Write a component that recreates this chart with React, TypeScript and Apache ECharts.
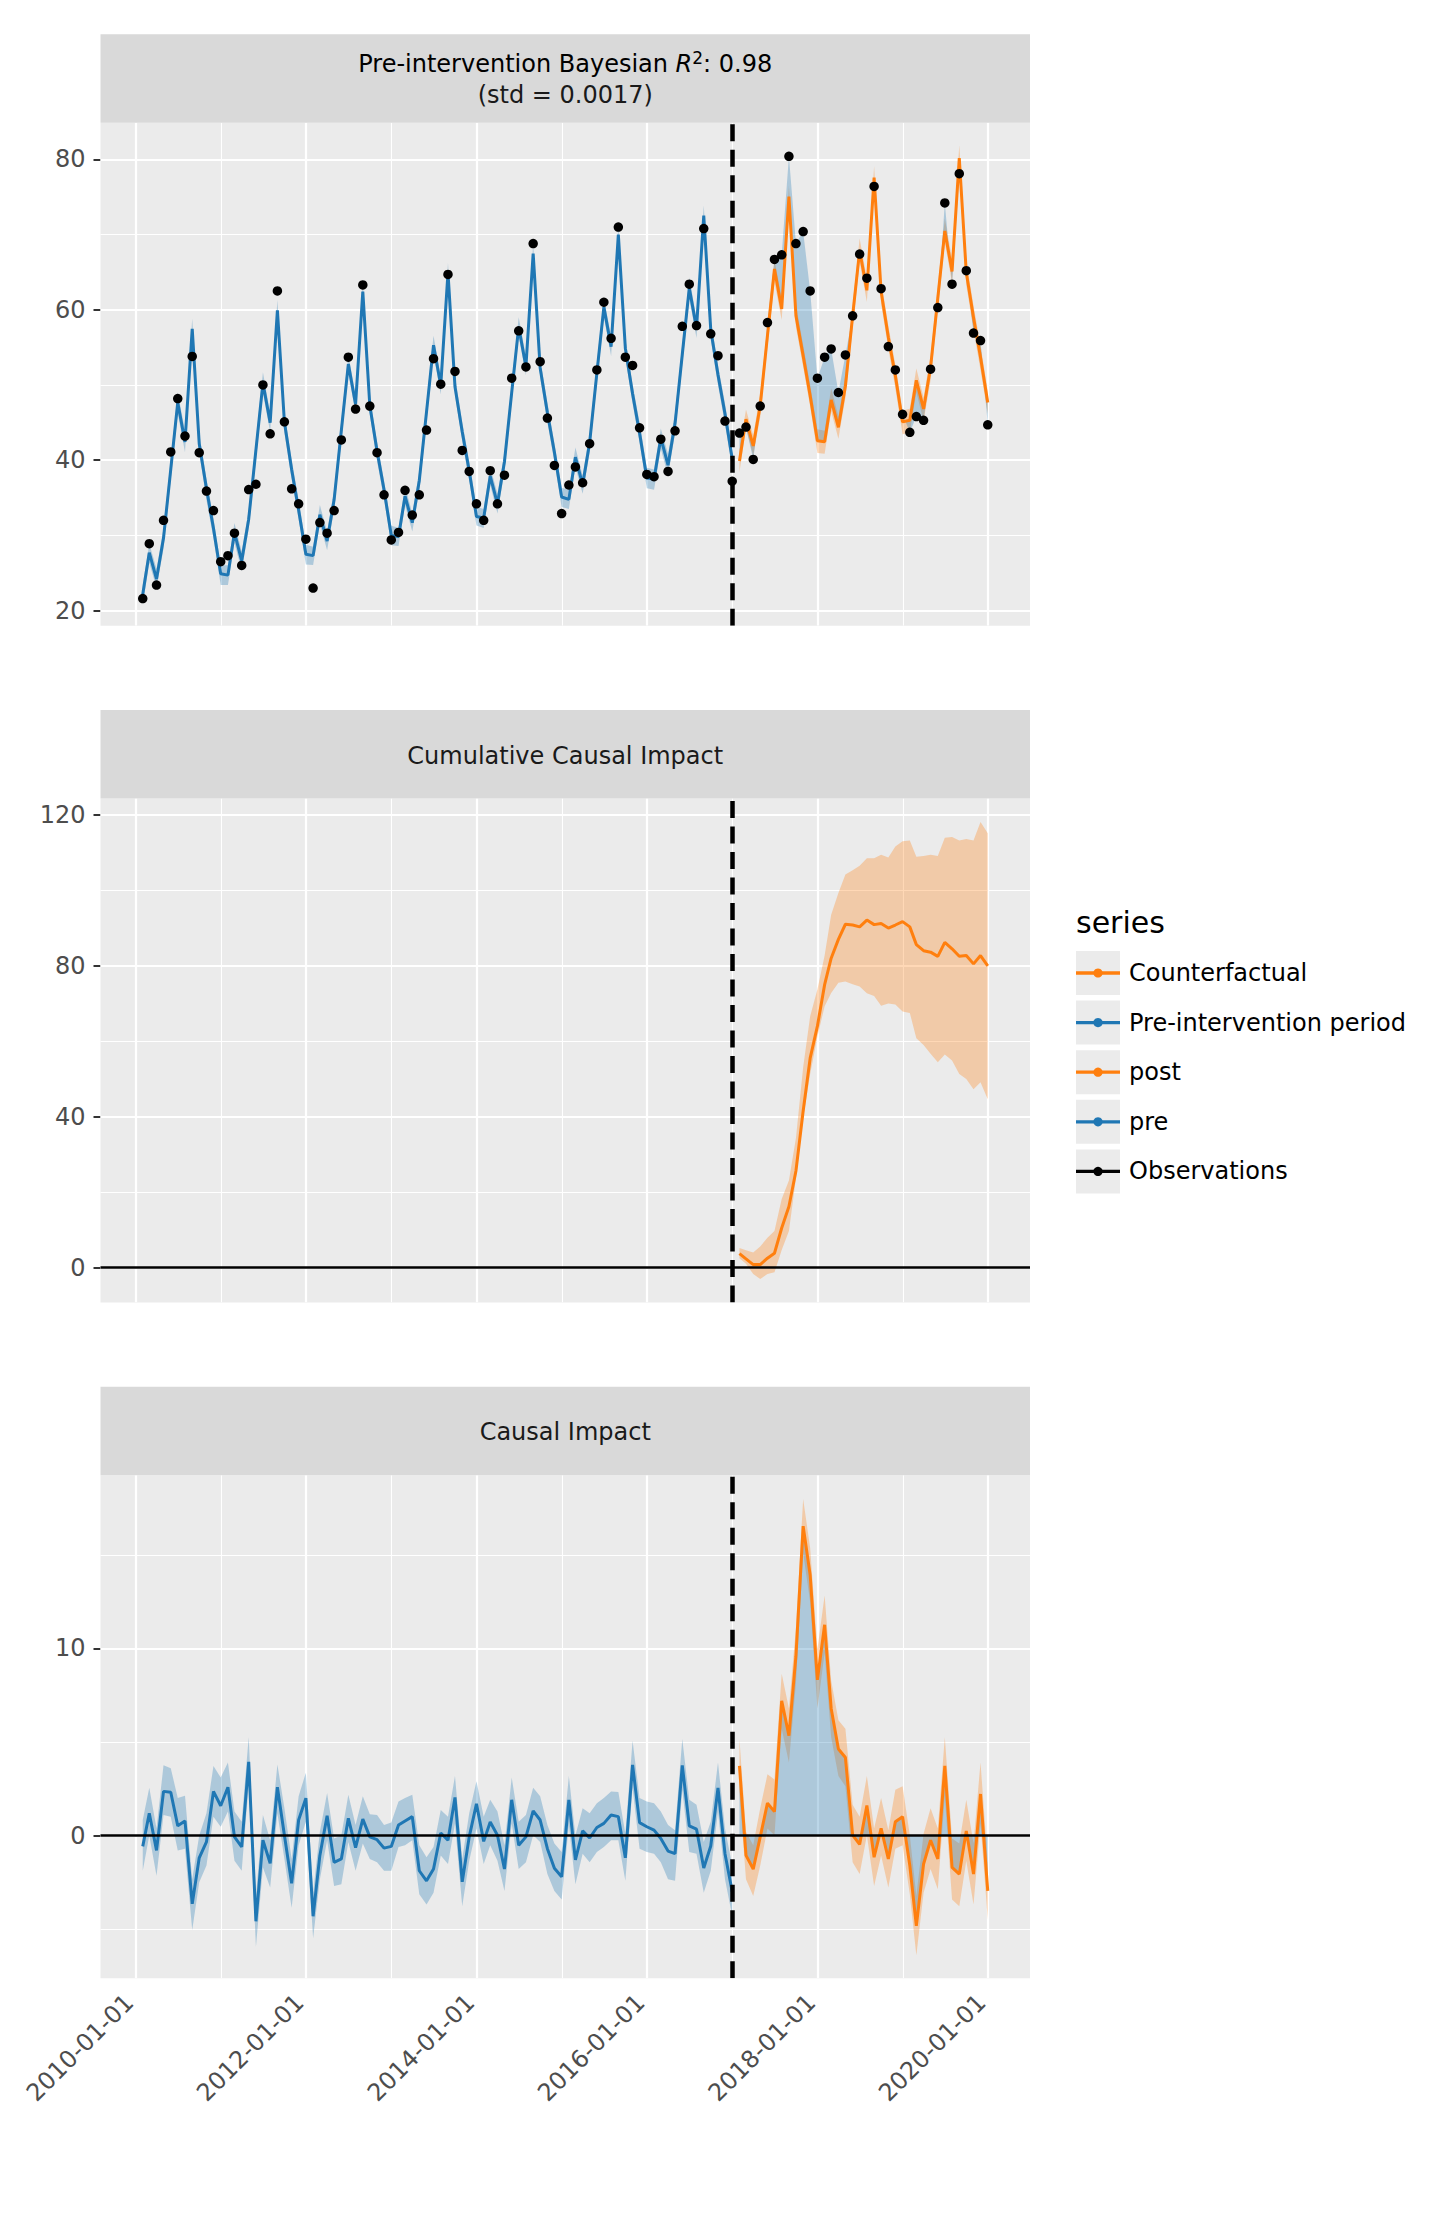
import React, { useEffect, useRef } from 'react';
import * as echarts from 'echarts';

const FONT = 'DejaVu Sans';
const BLUE = '#1f77b4';
const ORANGE = '#ff7f0e';
const BLUE_FILL = 'rgba(31,119,180,0.3)';
const ORANGE_FILL = 'rgba(255,127,14,0.3)';
const PANEL_BG = '#ebebeb';
const STRIP_BG = '#d9d9d9';

// Monthly series: month-end dates Jan 2010 .. Dec 2019
const FIRST_YEAR = 2010;
const MONTH_COUNT = 120;
const PRE_COUNT = 84; // Jan 2010 .. Dec 2016
const INTERVENTION_DATE = '2017-01-01';

const observed = [
  21.6, 28.9, 23.4, 32.0, 41.1, 48.2, 43.2, 53.8, 41.0, 35.9, 33.3, 26.5,
  27.3, 30.3, 26.0, 36.1, 36.8, 50.0, 43.5, 62.5, 45.1, 36.2, 34.2, 29.5,
  23.0, 31.7, 30.3, 33.3, 42.7, 53.7, 46.8, 63.3, 47.2, 41.0, 35.4, 29.4,
  30.4, 36.0, 32.7, 35.4, 44.0, 53.5, 50.1, 64.7, 51.8, 41.3, 38.5, 34.2,
  32.0, 38.6, 34.2, 38.0, 50.9, 57.2, 52.4, 68.8, 53.1, 45.6, 39.3, 32.9,
  36.7, 39.1, 37.0, 42.2, 52.0, 61.0, 56.2, 71.0, 53.7, 52.6, 44.3, 38.1,
  37.8, 42.8, 38.5, 43.9, 57.8, 63.4, 57.9, 70.8, 56.8, 53.9, 45.2, 37.2,
  43.6, 44.4, 40.1, 47.2, 58.3, 66.7, 67.3, 80.4, 68.8, 70.4, 62.5, 50.9,
  53.7, 54.8, 49.0, 54.0, 59.2, 67.4, 64.2, 76.4, 62.8, 55.1, 52.0, 46.1,
  43.7, 45.8, 45.3, 52.1, 60.3, 74.2, 63.4, 78.1, 65.2, 56.9, 55.9, 44.7,
];

// Point causal impact (observed minus model mean)
const pointEffect = [
  -0.58, 1.19, -0.79, 2.36, 2.31, 0.52, 0.78, -3.65, -1.19, -0.34, 2.36, 1.59,
  2.58, -0.07, -0.61, 3.94, -4.58, -0.25, -1.48, 2.58, 0.02, -2.55, 0.83, 2.0,
  -4.31, -1.06, 1.06, -1.43, -1.25, 0.92, -0.65, 0.88, -0.07, -0.22, -0.67, -0.58,
  0.56, 0.78, 1.01, -1.88, -2.42, -1.79, 0.14, -0.25, 2.04, -2.47, -0.07, 1.7,
  -0.31, 0.72, 0.02, -1.79, 1.91, -0.52, -0.07, 1.32, 0.83, -0.7, -1.75, -2.2,
  1.91, -1.3, 0.25, -0.13, 0.43, 0.65, 1.1, 1.01, -1.19, 3.77, 0.69, 0.47,
  0.29, -0.16, -0.83, -0.97, 3.75, 0.52, 0.34, -1.73, -0.56, 2.55, -0.97, -3.0,
  3.72, -1.06, -1.79, -0.07, 1.73, 1.28, 7.2, 5.34, 9.58, 16.53, 13.92, 8.32,
  11.26, 6.79, 4.62, 4.17, 0.02, -0.47, 1.61, -1.16, 0.38, -1.25, 0.74, 1.01,
  -1.6, -4.82, -1.52, -0.25, -1.25, 3.72, -1.7, -2.06, 0.25, -2.06, 2.22, -2.96,
];

const pointEffectLow = [
  -1.88, 0.0, -2.15, 1.1, 1.0, -0.8, -0.7, -5.04, -2.5, -1.6, 1.0, 0.47,
  1.28, -1.34, -1.88, 2.73, -5.94, -1.7, -2.78, 1.19, -1.25, -3.86, -0.52, 0.74,
  -5.49, -2.33, -0.25, -2.69, -2.6, -0.34, -1.88, -0.43, -1.25, -1.43, -1.88, -1.88,
  -0.61, -0.52, -0.25, -3.14, -3.68, -3.05, -1.06, -1.52, 0.65, -3.77, -1.34, 0.38,
  -1.52, -0.52, -1.34, -2.96, 0.65, -1.79, -1.43, 0.02, -0.34, -2.06, -2.96, -3.41,
  0.56, -2.6, -0.97, -1.43, -0.88, -0.61, -0.25, -0.25, -2.42, 2.55, -0.7, -0.88,
  -0.97, -1.43, -2.33, -2.42, 2.45, -0.88, -0.97, -3.05, -1.88, 1.28, -2.33, -4.3,
  2.27, -2.33, -3.23, -1.6, 0.38, 0.02, 5.7, 3.9, 8.14, 15.1, 12.47, 6.79,
  9.77, 5.25, 3.18, 2.64, -1.43, -2.06, 0.02, -2.69, -1.06, -2.78, -0.7, -0.52,
  -3.14, -6.39, -3.05, -1.79, -2.87, 2.09, -3.41, -3.77, -1.34, -3.68, 0.65, -4.49,
];

const pointEffectHigh = [
  0.83, 2.55, 0.38, 3.75, 3.6, 2.0, 2.13, -2.33, 0.0, 1.19, 3.72, 3.1,
  3.9, 1.28, 0.74, 5.25, -3.23, 1.1, -0.25, 3.8, 1.46, -1.25, 2.1, 3.36,
  -3.05, 0.2, 2.27, -0.16, 0.0, 2.18, 0.56, 2.1, 1.14, 1.1, 0.56, 0.7,
  1.82, 2.0, 2.18, -0.52, -1.16, -0.61, 1.37, 1.0, 3.18, -1.25, 1.19, 2.9,
  1.0, 1.91, 1.28, -0.52, 3.1, 0.74, 1.1, 2.55, 2.1, 0.56, -0.43, -0.88,
  3.18, 0.0, 1.46, 1.19, 1.73, 2.0, 2.36, 2.33, 0.1, 5.07, 2.0, 1.82,
  1.73, 1.28, 0.56, 0.29, 5.16, 1.91, 1.64, -0.34, 0.74, 3.9, 0.38, -1.6,
  5.16, 0.2, -0.52, 1.46, 3.27, 3.0, 8.65, 6.79, 11.1, 17.98, 15.36, 9.95,
  12.83, 8.28, 6.16, 5.7, 1.64, 1.0, 3.18, 0.38, 2.0, 0.29, 2.45, 2.64,
  0.02, -3.23, 0.1, 1.46, 0.38, 5.25, -0.16, -0.43, 1.91, -0.43, 3.9, -1.43,
];

// Cumulative impact over the post-intervention months (Jan 2017 .. Dec 2019)
const cumulativeEffect = [
  3.7, 2.3, 0.8, 0.8, 2.5, 3.8, 10.5, 16.2, 25.6, 41.5, 55.5, 64.0,
  75.0, 82.0, 87.0, 91.0, 90.8, 90.3, 92.1, 90.9, 91.2, 90.0, 90.8, 91.7,
  90.3, 85.6, 84.0, 83.6, 82.5, 86.2, 84.5, 82.5, 82.7, 80.5, 82.7, 80.0,
];
const cumulativeLow = [
  2.5, 1.0, -1.7, -3.0, -1.7, -1.25, 4.7, 9.7, 23.6, 39.7, 51.3, 61.2,
  69.3, 72.8, 75.5, 75.8, 75.1, 74.5, 72.7, 72.0, 69.4, 70.0, 69.7, 67.9,
  67.5, 60.8, 59.0, 56.7, 54.4, 56.5, 54.9, 51.3, 50.0, 47.3, 49.1, 44.6,
];
const cumulativeHigh = [
  5.2, 4.6, 4.0, 5.6, 7.9, 9.7, 18.2, 23.1, 34.3, 53.1, 66.6, 73.7,
  82.7, 93.5, 99.3, 104.2, 105.3, 106.5, 108.5, 108.5, 109.4, 108.7, 111.6, 113.0,
  113.2, 108.9, 109.1, 109.4, 109.1, 113.9, 114.1, 113.2, 113.6, 113.2, 118.1, 115.1,
];

const xMajorBreaks = ['2010-01-01', '2012-01-01', '2014-01-01', '2016-01-01', '2018-01-01', '2020-01-01'];
const xMinorBreaks = ['2011-01-01', '2013-01-01', '2015-01-01', '2017-01-01', '2019-01-01'];

const seriesYMajor = [20, 40, 60, 80];
const seriesYMinor = [30, 50, 70];
const cumulativeYMajor = [0, 40, 80, 120];
const cumulativeYMinor = [20, 60, 100];
const impactYMajor = [0, 10];
const impactYMinor = [-5, 5, 15];

const stripTitles = ['Cumulative Causal Impact', 'Causal Impact'];
const fitScore = '0.98';
const fitStd = '0.0017';

const legendTitle = 'series';
const legendLabels = ['Counterfactual', 'Pre-intervention period', 'post', 'pre', 'Observations'];
const legendColors = [ORANGE, BLUE, ORANGE, BLUE, '#000000'];

// Layout (pixels)
const PLOT_LEFT = 100.5;
const PLOT_WIDTH = 929.5;
const STRIP_H = 88.5;
const PANELS = [
  { top: 122.8, height: 503, yMin: 17.98, yMax: 84.86 },
  { top: 798.6, height: 504, yMin: -9.27, yMax: 124.3 },
  { top: 1475.2, height: 503, yMin: -7.62, yMax: 19.25 },
];

const ts = (d: string) => Date.parse(d + 'T00:00:00Z');
const fmtDate = (v: number) => new Date(v).toISOString().slice(0, 10);

function buildOption() {
  const months = Array.from({ length: MONTH_COUNT }, (_, i) => Date.UTC(FIRST_YEAR, i + 1, 0));
  const preX = months.slice(0, PRE_COUNT);
  const postX = months.slice(PRE_COUNT);
  const span = months[MONTH_COUNT - 1] - months[0];
  const xMin = months[0] - 0.05 * span;
  const xMax = months[MONTH_COUNT - 1] + 0.05 * span;
  const tIntervention = ts(INTERVENTION_DATE);
  const majorT = xMajorBreaks.map(ts);
  const minorT = xMinorBreaks.map(ts);

  const predicted = observed.map((v, i) => v - pointEffect[i]);
  const fitLow = observed.map((v, i) => v - pointEffectHigh[i]);
  const fitHigh = observed.map((v, i) => v - pointEffectLow[i]);

  const pre = <T,>(a: T[]) => a.slice(0, PRE_COUNT);
  const post = <T,>(a: T[]) => a.slice(PRE_COUNT);
  const zeros = postX.map(() => 0);

  const yBreaks = [
    [seriesYMajor, seriesYMinor],
    [cumulativeYMajor, cumulativeYMinor],
    [impactYMajor, impactYMinor],
  ];

  const grids = PANELS.map((p) => ({
    left: PLOT_LEFT,
    top: p.top,
    width: PLOT_WIDTH,
    height: p.height,
    show: true,
    backgroundColor: PANEL_BG,
    borderWidth: 0,
    containLabel: false,
  }));

  const xAxes = PANELS.map((_, gi) => ({
    type: 'value',
    gridIndex: gi,
    min: xMin,
    max: xMax,
    axisLine: { show: false },
    splitLine: { show: false },
    axisTick:
      gi === 2
        ? { show: true, customValues: majorT, length: 7, lineStyle: { color: '#333333', width: 2 } }
        : { show: false },
    axisLabel:
      gi === 2
        ? {
            show: true,
            customValues: majorT,
            rotate: 45,
            margin: 14,
            padding: [0, 9, 0, 0],
            formatter: (v: number) => fmtDate(v),
            color: '#4d4d4d',
            fontSize: 24,
            fontFamily: FONT,
          }
        : { show: false },
  }));

  const yAxes = PANELS.map((p, gi) => ({
    type: 'value',
    gridIndex: gi,
    min: p.yMin,
    max: p.yMax,
    axisLine: { show: false },
    splitLine: { show: false },
    axisTick: { show: true, customValues: yBreaks[gi][0], length: 7, lineStyle: { color: '#333333', width: 2 } },
    axisLabel: {
      show: true,
      customValues: yBreaks[gi][0],
      margin: 15,
      color: '#4d4d4d',
      fontSize: 24,
      fontFamily: FONT,
    },
  }));

  // Panel grid lines drawn as segments in data space
  const gridLines = (gi: number) => {
    const p = PANELS[gi];
    const data: any[] = [];
    majorT.forEach((t) => data.push({ coords: [[t, p.yMin], [t, p.yMax]], lineStyle: { width: 2.2 } }));
    minorT.forEach((t) => data.push({ coords: [[t, p.yMin], [t, p.yMax]], lineStyle: { width: 1.1 } }));
    yBreaks[gi][0].forEach((v) => data.push({ coords: [[xMin, v], [xMax, v]], lineStyle: { width: 2.2 } }));
    yBreaks[gi][1].forEach((v) => data.push({ coords: [[xMin, v], [xMax, v]], lineStyle: { width: 1.1 } }));
    return {
      type: 'lines',
      coordinateSystem: 'cartesian2d',
      xAxisIndex: gi,
      yAxisIndex: gi,
      silent: true,
      z: 1,
      lineStyle: { color: '#ffffff', opacity: 1, curveness: 0 },
      data,
    };
  };

  const refLines = (gi: number, withZero: boolean) => {
    const p = PANELS[gi];
    const data: any[] = [
      {
        coords: [[tIntervention, p.yMin], [tIntervention, p.yMax]],
        lineStyle: { color: '#000000', width: 4.5, type: [17, 8.5] },
      },
    ];
    if (withZero) {
      data.unshift({ coords: [[xMin, 0], [xMax, 0]], lineStyle: { color: '#000000', width: 2.5, type: 'solid' } });
    }
    return {
      type: 'lines',
      coordinateSystem: 'cartesian2d',
      xAxisIndex: gi,
      yAxisIndex: gi,
      silent: true,
      z: 10,
      lineStyle: { opacity: 1, curveness: 0 },
      data,
    };
  };

  const band = (gi: number, xs: number[], lo: number[], hi: number[], fill: string, z = 2) => ({
    type: 'custom',
    xAxisIndex: gi,
    yAxisIndex: gi,
    silent: true,
    z,
    data: xs.map((x, k) => [x, lo[k], hi[k]]),
    encode: { x: 0, y: [1, 2] },
    renderItem: (params: any, api: any) => {
      if (params.dataIndex !== 0) return null;
      const upper = xs.map((x, k) => api.coord([x, hi[k]]));
      const lower = xs.map((x, k) => api.coord([x, lo[k]])).reverse();
      return { type: 'polygon', shape: { points: upper.concat(lower) }, style: { fill } };
    },
  });

  const line = (gi: number, xs: number[], ys: number[], color: string, z = 4) => ({
    type: 'line',
    xAxisIndex: gi,
    yAxisIndex: gi,
    data: xs.map((x, k) => [x, ys[k]]),
    symbol: 'none',
    showSymbol: false,
    silent: true,
    z,
    lineStyle: { color, width: 3 },
  });

  const series: any[] = [
    // Panel 1: observations and model fit
    gridLines(0),
    band(0, preX, pre(fitLow), pre(fitHigh), BLUE_FILL),
    band(0, postX, post(fitLow), post(fitHigh), ORANGE_FILL),
    band(0, postX, post(predicted), post(observed), BLUE_FILL),
    line(0, preX, pre(predicted), BLUE),
    line(0, postX, post(predicted), ORANGE),
    {
      type: 'scatter',
      xAxisIndex: 0,
      yAxisIndex: 0,
      data: months.map((x, k) => [x, observed[k]]),
      symbol: 'circle',
      symbolSize: 9.5,
      silent: true,
      z: 6,
      itemStyle: { color: '#000000', opacity: 1 },
    },
    refLines(0, false),

    // Panel 2: cumulative impact
    gridLines(1),
    band(1, postX, cumulativeLow, cumulativeHigh, ORANGE_FILL),
    line(1, postX, cumulativeEffect, ORANGE),
    refLines(1, true),

    // Panel 3: point impact
    gridLines(2),
    band(2, preX, pre(pointEffectLow), pre(pointEffectHigh), BLUE_FILL),
    band(2, postX, post(pointEffectLow), post(pointEffectHigh), ORANGE_FILL),
    band(2, postX, zeros, post(pointEffect), BLUE_FILL),
    line(2, preX, pre(pointEffect), BLUE),
    line(2, postX, post(pointEffect), ORANGE),
    refLines(2, true),
  ];

  const textBase = { fontFamily: FONT, fill: '#1a1a1a' };
  const centerX = PLOT_LEFT + PLOT_WIDTH / 2;

  const graphic: any[] = [];
  PANELS.forEach((p) => {
    graphic.push({
      type: 'rect',
      shape: { x: PLOT_LEFT, y: p.top - STRIP_H, width: PLOT_WIDTH, height: STRIP_H },
      style: { fill: STRIP_BG },
      silent: true,
    });
  });
  graphic.push({
    type: 'text',
    x: centerX,
    y: 64,
    style: {
      text: `{n|Pre-intervention Bayesian }{i|R}{s|2}{n|: ${fitScore}}`,
      align: 'center',
      verticalAlign: 'middle',
      rich: {
        n: { fontFamily: FONT, fontSize: 24, color: '#1a1a1a', lineHeight: 30 },
        i: { fontFamily: FONT, fontSize: 24, fontStyle: 'italic', color: '#1a1a1a', lineHeight: 30 },
        s: { fontFamily: FONT, fontSize: 17, color: '#1a1a1a', lineHeight: 21, verticalAlign: 'top' },
      },
    },
    silent: true,
  });
  graphic.push({
    type: 'text',
    x: centerX,
    y: 95,
    style: { ...textBase, text: `(std = ${fitStd})`, fontSize: 24, align: 'center', verticalAlign: 'middle' },
    silent: true,
  });
  stripTitles.forEach((t, k) => {
    const p = PANELS[k + 1];
    graphic.push({
      type: 'text',
      x: centerX,
      y: p.top - STRIP_H / 2 + 1.5,
      style: { ...textBase, text: t, fontSize: 24, align: 'center', verticalAlign: 'middle' },
      silent: true,
    });
  });

  // Legend
  const LEG_X = 1076;
  const KEY = 44;
  const KEY_TOP = 951;
  const KEY_STEP = 49.6;
  graphic.push({
    type: 'text',
    x: LEG_X,
    y: 922,
    style: { fontFamily: FONT, fill: '#000000', text: legendTitle, fontSize: 30, align: 'left', verticalAlign: 'middle' },
    silent: true,
  });
  legendLabels.forEach((label, k) => {
    const y0 = KEY_TOP + k * KEY_STEP;
    const cy = y0 + KEY / 2;
    graphic.push(
      { type: 'rect', shape: { x: LEG_X, y: y0, width: KEY, height: KEY }, style: { fill: PANEL_BG }, silent: true },
      {
        type: 'line',
        shape: { x1: LEG_X, y1: cy, x2: LEG_X + KEY, y2: cy },
        style: { stroke: legendColors[k], lineWidth: 3.3 },
        silent: true,
      },
      { type: 'circle', shape: { cx: LEG_X + KEY / 2, cy, r: 4.6 }, style: { fill: legendColors[k] }, silent: true },
      {
        type: 'text',
        x: LEG_X + 53,
        y: cy,
        style: { fontFamily: FONT, fill: '#000000', text: label, fontSize: 24, align: 'left', verticalAlign: 'middle' },
        silent: true,
      }
    );
  });

  return {
    animation: false,
    backgroundColor: '#ffffff',
    grid: grids,
    xAxis: xAxes,
    yAxis: yAxes,
    series,
    graphic,
  };
}

export default function App() {
  const ref = useRef<HTMLDivElement>(null);
  useEffect(() => {
    document.body.style.margin = '0';
    const chart = echarts.init(ref.current as HTMLDivElement, null, { renderer: 'svg' });
    chart.setOption(buildOption() as any);
    return () => chart.dispose();
  }, []);
  return <div ref={ref} style={{ width: 1443, height: 2240 }} />;
}
